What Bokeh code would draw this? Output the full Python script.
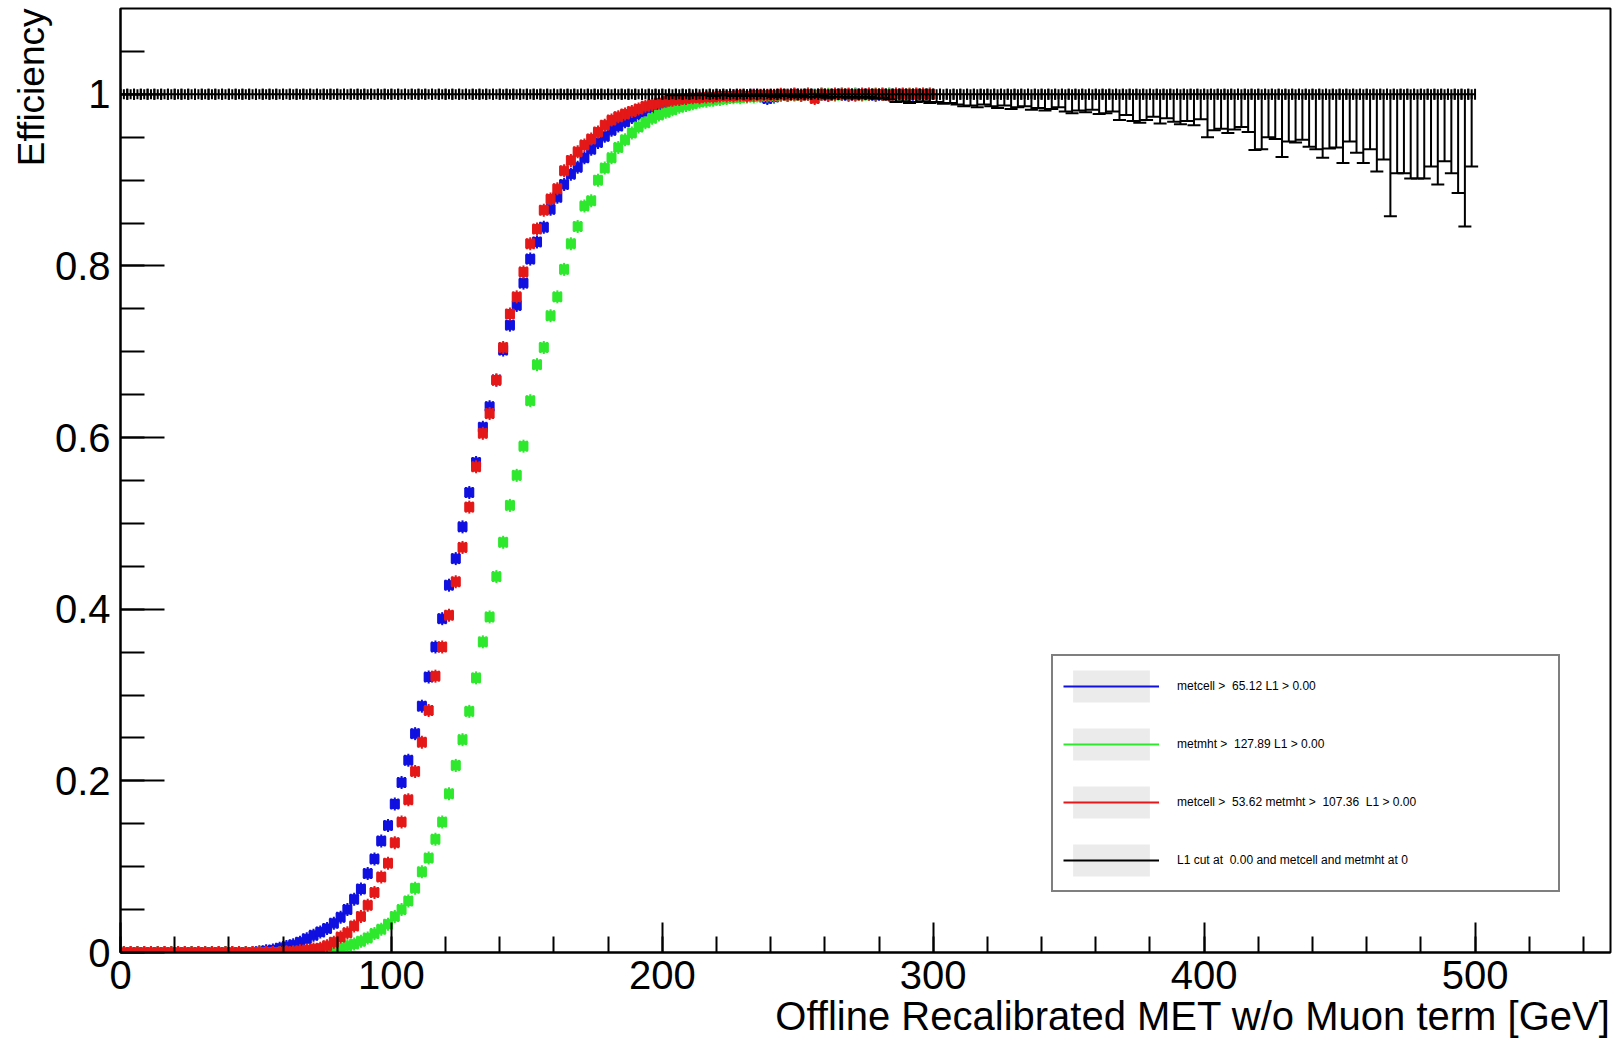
import numpy as np
from bokeh.plotting import figure
from bokeh.models import (Range1d, FixedTicker, CustomJSTickFormatter, Title,
                          Legend, LegendItem)
from bokeh.embed import file_html
from bokeh.resources import INLINE

# ---------------- data ----------------
bin_width = 2.5          # GeV per bin
n_black_bins = 200       # 0 .. 500 GeV
n_color_bins = 120       # 0 .. 300 GeV (beyond that hidden under the black series)

blue_eff = [
    0.0, 0.0, 0.0, 0.0, 0.0, 0.0, 0.0, 0.0, 0.0, 0.0, 0.0, 0.0, 0.0, 0.0, 0.0, 0.0, 0.0, 0.0, 0.0, 0.0,
    0.001, 0.002, 0.003, 0.005, 0.007, 0.009, 0.012, 0.016, 0.020, 0.024, 0.028, 0.034, 0.041, 0.050, 0.062, 0.074, 0.092, 0.109, 0.130, 0.148,
    0.173, 0.198, 0.224, 0.255, 0.287, 0.321, 0.356, 0.389, 0.428, 0.459, 0.496, 0.536, 0.571, 0.612, 0.636, 0.667, 0.702, 0.731, 0.754, 0.780,
    0.808, 0.828, 0.845, 0.866, 0.880, 0.895, 0.907, 0.915, 0.926, 0.936, 0.944, 0.951, 0.958, 0.963, 0.968, 0.973, 0.977, 0.980, 0.983, 0.986,
    0.988, 0.990, 0.991, 0.993, 0.994, 0.995, 0.996, 0.996, 0.997, 0.997, 0.998, 0.998, 0.998, 0.999, 0.998, 0.995, 0.997, 0.999, 0.999, 1.000,
    0.999, 1.000, 0.999, 1.000, 0.999, 1.000, 1.000, 0.999, 1.000, 1.000, 1.000, 0.999, 1.000, 1.000, 1.000, 1.000, 0.999, 1.000, 1.000, 1.000,
]

green_eff = [
    0.0, 0.0, 0.0, 0.0, 0.0, 0.0, 0.0, 0.0, 0.0, 0.0, 0.0, 0.0, 0.0, 0.0, 0.0, 0.0, 0.0, 0.0, 0.0, 0.0,
    0.0, 0.0, 0.0, 0.0, 0.0, 0.0, 0.0, 0.0, 0.0, 0.0, 0.0, 0.003, 0.005, 0.008, 0.010, 0.013, 0.017, 0.022, 0.027, 0.033,
    0.042, 0.050, 0.060, 0.075, 0.094, 0.110, 0.132, 0.152, 0.185, 0.218, 0.248, 0.281, 0.320, 0.362, 0.391, 0.438, 0.478, 0.521, 0.556, 0.590,
    0.643, 0.685, 0.705, 0.742, 0.764, 0.796, 0.826, 0.846, 0.870, 0.876, 0.900, 0.914, 0.926, 0.938, 0.947, 0.955, 0.962, 0.967, 0.972, 0.976,
    0.979, 0.982, 0.985, 0.987, 0.989, 0.991, 0.992, 0.993, 0.994, 0.995, 0.996, 0.996, 0.997, 0.997, 0.998, 0.998, 0.998, 0.999, 0.999, 0.999,
    0.999, 1.000, 0.999, 1.000, 1.000, 0.999, 1.000, 1.000, 1.000, 0.999, 1.000, 1.000, 1.000, 1.000, 1.000, 0.999, 1.000, 1.000, 1.000, 1.000,
]

red_eff = [
    0.0, 0.0, 0.0, 0.0, 0.0, 0.0, 0.0, 0.0, 0.0, 0.0, 0.0, 0.0, 0.0, 0.0, 0.0, 0.0, 0.0, 0.0, 0.0, 0.0,
    0.0, 0.0, 0.0, 0.0, 0.001, 0.001, 0.002, 0.003, 0.004, 0.005, 0.008, 0.012, 0.018, 0.023, 0.031, 0.042, 0.055, 0.070, 0.088, 0.104,
    0.128, 0.152, 0.178, 0.211, 0.245, 0.282, 0.322, 0.356, 0.393, 0.432, 0.472, 0.519, 0.566, 0.605, 0.628, 0.667, 0.705, 0.744, 0.764, 0.793,
    0.826, 0.843, 0.865, 0.878, 0.890, 0.911, 0.923, 0.933, 0.941, 0.948, 0.956, 0.964, 0.970, 0.974, 0.977, 0.980, 0.983, 0.986, 0.988, 0.990,
    0.992, 0.993, 0.994, 0.995, 0.996, 0.996, 0.997, 0.997, 0.998, 0.998, 0.998, 0.999, 0.998, 0.999, 0.999, 0.999, 0.999, 1.000, 0.999, 1.000,
    0.999, 1.000, 0.995, 1.000, 0.999, 1.000, 1.000, 1.000, 0.999, 1.000, 1.000, 1.000, 1.000, 0.999, 1.000, 1.000, 1.000, 1.000, 1.000, 1.000,
]

# reference series: efficiency 1 in every bin, lower errors grow with MET
black_eff = [1.0] * n_black_bins
black_err_low = [0.0] * 80 + [
    0.000, 0.001, 0.000, 0.001, 0.001, 0.000, 0.001, 0.002, 0.001, 0.001, 0.002, 0.001, 0.002, 0.002,
    0.001, 0.002, 0.003, 0.002, 0.002, 0.003, 0.002, 0.003, 0.003, 0.002, 0.004, 0.003, 0.003, 0.004,
    0.003, 0.004, 0.003, 0.005, 0.004, 0.006, 0.009, 0.008, 0.010, 0.009, 0.008, 0.010,
    0.009, 0.011, 0.010, 0.012, 0.014, 0.013, 0.015, 0.012, 0.014, 0.016,
    0.013, 0.017, 0.015, 0.014, 0.018, 0.016, 0.019, 0.017, 0.015, 0.020,
    0.022, 0.019, 0.021, 0.018, 0.023, 0.022, 0.020, 0.030, 0.024, 0.031,
    0.033, 0.030, 0.026, 0.034, 0.028, 0.032, 0.035, 0.031, 0.036, 0.029,
    0.050, 0.042, 0.040, 0.045, 0.041, 0.038, 0.044, 0.065, 0.064, 0.050,
    0.052, 0.073, 0.055, 0.056, 0.053, 0.061, 0.064, 0.074, 0.063, 0.062,
    0.080, 0.055, 0.068, 0.080, 0.064, 0.090, 0.076, 0.142, 0.092, 0.092,
    0.098, 0.098, 0.098, 0.084, 0.105, 0.078, 0.092, 0.115, 0.154, 0.084,
]

legend_labels = [
    "metcell >  65.12 L1 > 0.00",
    "metmht >  127.89 L1 > 0.00",
    "metcell >  53.62 metmht >  107.36  L1 > 0.00",
    "L1 cut at  0.00 and metcell and metmht at 0",
]
series_colors = ["#1010e0", "#2ee82e", "#e41818", "#000000"]

x_major_ticks = [0, 100, 200, 300, 400, 500]
y_major_ticks = [0, 0.2, 0.4, 0.6, 0.8, 1.0]
x_title = "Offline Recalibrated MET w/o Muon term [GeV]"
y_title = "Efficiency"

assert len(blue_eff) == n_color_bins and len(green_eff) == n_color_bins and len(red_eff) == n_color_bins
assert len(black_err_low) == n_black_bins

# ---------------- figure ----------------
W, H = 1615, 1038
p = figure(width=W, height=H, x_range=Range1d(0, 550), y_range=Range1d(0, 1.1),
           output_backend="svg", toolbar_location=None,
           min_border_left=120, min_border_right=5, min_border_top=8, min_border_bottom=86)
p.xgrid.visible = False
p.ygrid.visible = False
p.outline_line_color = "black"
p.outline_line_width = 2
p.background_fill_color = "white"
p.border_fill_color = "white"

p.xaxis.ticker = FixedTicker(ticks=x_major_ticks, minor_ticks=list(np.arange(0, 541, 20)))
p.yaxis.ticker = FixedTicker(ticks=y_major_ticks, minor_ticks=list(np.round(np.arange(0, 1.06, 0.05), 2)))
p.yaxis.formatter = CustomJSTickFormatter(
    code="return (Math.abs(tick) < 1e-9) ? '0' : (Math.abs(tick - 1) < 1e-9 ? '1' : tick.toFixed(1));")

for ax in (p.xaxis[0], p.yaxis[0]):
    ax.axis_line_width = 2
    ax.axis_line_color = "black"
    ax.major_tick_line_width = 2
    ax.minor_tick_line_width = 2
    ax.major_tick_line_color = "black"
    ax.minor_tick_line_color = "black"
    ax.major_tick_out = 0
    ax.minor_tick_out = 0
    ax.major_label_text_font = "Liberation Sans"
    ax.major_label_text_font_size = "40px"
    ax.major_label_text_color = "black"
p.yaxis.major_tick_in = 44
p.yaxis.minor_tick_in = 24
p.xaxis.major_tick_in = 30
p.xaxis.minor_tick_in = 16
p.yaxis.major_label_standoff = 10
p.xaxis.major_label_standoff = 8


def draw_series(eff, color, err_low=None):
    eff = np.asarray(eff, dtype=float)
    n = len(eff)
    centers = bin_width * (np.arange(n) + 0.5)
    lo = centers - bin_width / 2
    hi = centers + bin_width / 2
    # horizontal (bin-width) error bar
    p.segment(x0=lo, y0=eff, x1=hi, y1=eff, line_color=color, line_width=2)
    # its end caps
    p.scatter(x=np.concatenate([lo, hi]), y=np.concatenate([eff, eff]), marker="dash",
              angle=np.pi / 2, size=11, line_color=color, line_width=2)
    if err_low is None:
        p.scatter(x=centers, y=eff, marker="square", size=9, fill_color=color,
                  line_color=color, line_width=1)
        p.scatter(x=centers, y=eff, marker="dash", angle=np.pi / 2, size=13,
                  line_color=color, line_width=2)
    else:
        err = np.asarray(err_low, dtype=float)
        p.scatter(x=centers, y=eff, marker="dash", angle=np.pi / 2, size=10,
                  line_color=color, line_width=2)
        m = err > 0
        p.segment(x0=centers[m], y0=(eff - err)[m], x1=centers[m], y1=eff[m],
                  line_color=color, line_width=2)
        p.scatter(x=centers[m], y=(eff - err)[m], marker="dash", size=13,
                  line_color=color, line_width=2)


draw_series(blue_eff, series_colors[0])
draw_series(green_eff, series_colors[1])
draw_series(red_eff, series_colors[2])
draw_series(black_eff, series_colors[3], black_err_low)

# ---------------- legend (ROOT style) ----------------
items = []
nan = float("nan")
for lab, col in zip(legend_labels, series_colors):
    box = p.quad(left=[nan], right=[nan], top=[nan], bottom=[nan],
                 fill_color="#ebebeb", line_color=None)
    ln = p.line(x=[nan], y=[nan], line_color=col, line_width=2)
    items.append(LegendItem(label=lab, renderers=[box, ln]))

legend = Legend(items=items, location=(931, 60), orientation="vertical",
                glyph_width=96, glyph_height=40, spacing=18, padding=10,
                label_standoff=18, label_width=371, label_height=20,
                label_text_font="Liberation Sans", label_text_font_size="12px",
                label_text_color="black",
                border_line_color="black", border_line_width=2,
                background_fill_color="white", background_fill_alpha=1.0,
                margin=0)
p.add_layout(legend)

# ---------------- axis titles ----------------
p.add_layout(Title(text=x_title, align="right", text_font="Liberation Sans",
                   text_font_size="40px", text_font_style="normal", text_color="black",
                   standoff=0), "below")
p.add_layout(Title(text=y_title, align="right", text_font="Liberation Sans",
                   text_font_size="37px", text_font_style="normal", text_color="black",
                   standoff=0), "left")

open("out.html", "w").write(file_html(p, INLINE))
